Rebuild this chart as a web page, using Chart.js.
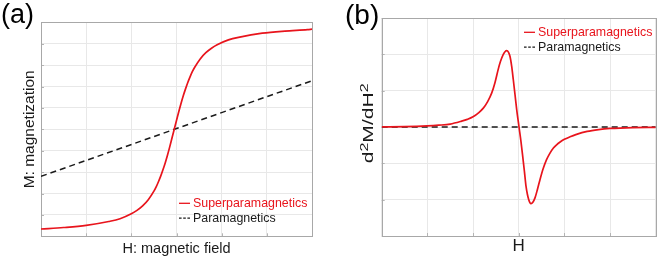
<!DOCTYPE html>
<html>
<head>
<meta charset="utf-8">
<script src="https://cdn.jsdelivr.net/npm/chart.js@4.4.1/dist/chart.umd.min.js"></script>
<style>
  body { margin: 0; background: #fff; }
  #wrap { position: relative; width: 657px; height: 258px; }
  canvas { position: absolute; top: 0; }
  #chart-a { left: 0; }
  #chart-b { left: 330px; }
</style>
</head>
<body>
<div id="wrap">
  <canvas id="chart-a" width="330" height="258"></canvas>
  <canvas id="chart-b" width="327" height="258"></canvas>
</div>
<script>
// panel (a): M vs H
const fieldA = [-3, -2.5, -2, -1.5, -1.25, -1, -0.875, -0.75, -0.625, -0.5, -0.45, -0.4, -0.35, -0.3, -0.25, -0.2, -0.15, -0.1, -0.05,
                0, 0.05, 0.1, 0.15, 0.2, 0.25, 0.3, 0.35, 0.4, 0.525, 0.65, 0.775, 0.9, 1.15, 1.4, 1.9, 2.4, 2.9, 3];
const superA = [-4.66, -4.59, -4.49, -4.31, -4.18, -3.95, -3.79, -3.58, -3.29, -2.89, -2.69, -2.45, -2.19, -1.89, -1.57, -1.21, -0.82, -0.41, 0,
                0.41, 0.82, 1.21, 1.57, 1.89, 2.19, 2.45, 2.69, 2.89, 3.29, 3.58, 3.79, 3.95, 4.18, 4.31, 4.49, 4.59, 4.66, 4.68];
const paraFieldA = [-3, 3];
const paraA = [-2.2, 2.27];

// panel (b): d2M/dH2 vs H
const fieldB = [-3, -2.5, -2, -1.75, -1.5, -1.25, -1.125, -1, -0.88, -0.775, -0.68, -0.59, -0.52, -0.45, -0.4, -0.34, -0.3, -0.263, -0.225,
                -0.19, -0.155, -0.118, -0.08, -0.044, 0.007, 0.05, 0.088, 0.125, 0.16, 0.19, 0.22, 0.245, 0.27, 0.31, 0.357, 0.41,
                0.466, 0.535, 0.61, 0.685, 0.76, 0.83, 0.9, 1, 1.125, 1.25, 1.5, 1.75, 2, 2.5, 3];
const superB = [0.005, 0.01, 0.03, 0.05, 0.08, 0.16, 0.21, 0.28, 0.39, 0.52, 0.7, 0.94, 1.22, 1.58, 1.8, 1.99, 2.07, 2.1, 2.06,
                1.94, 1.68, 1.3, 0.88, 0.48, 0, -0.4, -0.81, -1.22, -1.63, -1.85, -2.0, -2.08, -2.11, -2.07, -1.95, -1.72,
                -1.45, -1.15, -0.9, -0.72, -0.58, -0.49, -0.42, -0.34, -0.27, -0.21, -0.12, -0.07, -0.04, -0.015, -0.01];
const paraFieldB = [-3, 3];
const paraB = [0, 0];

// unlabeled grid ticks
const ticksX = [-3, -2, -1, 0, 1, 2, 3];
const ticksYA = [-5, -4, -3, -2, -1, 0, 1, 2, 3, 4, 5];
const ticksYB = [-3, -2, -1, 0, 1, 2, 3];

const seriesNames = ["Superparamagnetics", "Paramagnetics"];

const FONT = '"Liberation Sans", Arial, Helvetica, sans-serif';
const RED = "#e8141c";
const INK = "#1a1a1a";
Chart.defaults.font.family = FONT;

const pts = (xs, ys) => xs.map((x, i) => ({ x, y: ys[i] }));

function datasets(fx, sy, px, py) {
    return [
        { label: seriesNames[0], data: pts(fx, sy), borderColor: RED, borderWidth: 1.7,
          pointRadius: 0, cubicInterpolationMode: "monotone" },
        { label: seriesNames[1], data: pts(px, py), borderColor: INK, borderWidth: 1.5,
          borderDash: [6, 4], pointRadius: 0 }
    ];
}

function axis(ticks, title) {
    return {
        type: "linear",
        min: ticks[0],
        max: ticks[ticks.length - 1],
        ticks: { display: false, stepSize: 1 },
        grid: { color: "#e8e8e8", drawTicks: false },
        border: { display: false },
        title: title || { display: false }
    };
}

// box, inward tick marks
const frame = {
    id: "frame",
    beforeDatasetsDraw(chart) {
        const { ctx, chartArea: a, scales } = chart;
        ctx.save();
        ctx.strokeStyle = "#b4b4b4";
        ctx.lineWidth = 1;
        scales.x.ticks.forEach(t => {
            const px = Math.round(scales.x.getPixelForValue(t.value)) + 0.5;
            ctx.beginPath(); ctx.moveTo(px, a.bottom); ctx.lineTo(px, a.bottom - 3); ctx.stroke();
        });
        scales.y.ticks.forEach(t => {
            const py = Math.round(scales.y.getPixelForValue(t.value)) + 0.5;
            ctx.beginPath(); ctx.moveTo(a.left, py); ctx.lineTo(a.left + 3, py); ctx.stroke();
        });
        ctx.strokeStyle = "#a8a8a8";
        ctx.strokeRect(Math.round(a.left) + 0.5, Math.round(a.top) + 0.5,
                       Math.round(a.right - a.left), Math.round(a.bottom - a.top));
        ctx.restore();
    }
};

function panelLabel(text, x, y, size) {
    return {
        id: "panelLabel",
        afterDraw(chart) {
            const ctx = chart.ctx;
            ctx.save();
            ctx.font = size + "px " + FONT;
            ctx.fillStyle = "#000";
            ctx.textBaseline = "alphabetic";
            ctx.fillText(text, x, y);
            ctx.restore();
        }
    };
}

function innerLegend(place) {
    return {
        id: "innerLegend",
        afterDatasetsDraw(chart) {
            const { ctx, chartArea } = chart;
            const { x, y } = place(chartArea);
            ctx.save();
            ctx.font = "12.4px " + FONT;
            ctx.textBaseline = "middle";
            chart.data.datasets.forEach((ds, i) => {
                const yy = y + i * 14.8;
                ctx.strokeStyle = ds.borderColor;
                ctx.lineWidth = 1.3;
                ctx.setLineDash(i === 0 ? [] : [2.6, 1.6]);
                ctx.beginPath(); ctx.moveTo(x - 14, yy); ctx.lineTo(x - 3, yy); ctx.stroke();
                ctx.setLineDash([]);
                ctx.fillStyle = ds.borderColor;
                ctx.fillText(ds.label, x, yy);
            });
            ctx.restore();
        }
    };
}

// d^2M/dH^2 with raised 2s
const yTitleB = {
    id: "yTitleB",
    afterDraw(chart) {
        const ctx = chart.ctx;
        const parts = [["d", 14.5, 0], ["2", 11, 5], ["M/dH", 14.5, 0], ["2", 11, 5]];
        ctx.save();
        let total = 0;
        parts.forEach(p => { ctx.font = p[1] + "px " + FONT; total += ctx.measureText(p[0]).width; });
        const len = 80;
        ctx.translate(43, 123.3 + len / 2);
        ctx.rotate(-Math.PI / 2);
        ctx.scale(len / total, 1);
        ctx.fillStyle = INK;
        ctx.textBaseline = "alphabetic";
        let cx = 0;
        parts.forEach(p => {
            ctx.font = p[1] + "px " + FONT;
            ctx.fillText(p[0], cx, -p[2]);
            cx += ctx.measureText(p[0]).width;
        });
        ctx.restore();
    }
};

new Chart(document.getElementById("chart-a"), {
    type: "line",
    data: { datasets: datasets(fieldA, superA, paraFieldA, paraA) },
    options: {
        responsive: false,
        animation: false,
        layout: { autoPadding: false, padding: { left: 20.7, right: 18, top: 22.3, bottom: 0 } },
        plugins: { legend: { display: false }, tooltip: { enabled: false } },
        scales: {
            x: axis(ticksX, { display: true, text: "H: magnetic field", color: INK,
                              font: { size: 14.5 }, padding: { top: 3.7, bottom: 0.6 } }),
            y: axis(ticksYA, { display: true, text: "M: magnetization", color: INK,
                               font: { size: 15.5 }, padding: { top: 0, bottom: 1.7 } })
        }
    },
    plugins: [frame, panelLabel("(a)", 1, 22.7, 27),
              innerLegend(a => ({ x: a.right - 119, y: a.bottom - 33 }))]
});

new Chart(document.getElementById("chart-b"), {
    type: "line",
    data: { datasets: datasets(fieldB, superB, paraFieldB, paraB) },
    options: {
        responsive: false,
        animation: false,
        layout: { autoPadding: false, padding: { left: 51.7, right: 1.3, top: 18, bottom: 0 } },
        plugins: { legend: { display: false }, tooltip: { enabled: false } },
        scales: {
            x: axis(ticksX, { display: true, text: "H", color: INK,
                              font: { size: 17 }, padding: { top: 0.5, bottom: 1.1 } }),
            y: axis(ticksYB)
        }
    },
    plugins: [frame, yTitleB, panelLabel("(b)", 15, 23.5, 28),
              innerLegend(a => ({ x: a.right - 117.7, y: a.top + 14.3 }))]
});
</script>
</body>
</html>
